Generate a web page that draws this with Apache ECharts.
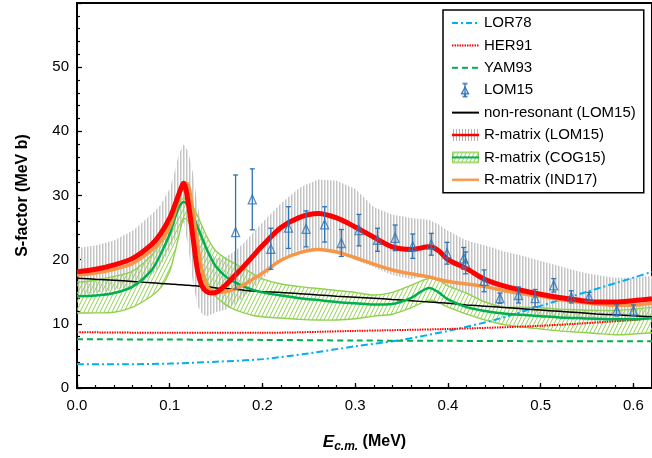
<!DOCTYPE html>
<html><head><meta charset="utf-8">
<script src="https://cdn.jsdelivr.net/npm/echarts@6/dist/echarts.min.js"></script>
<style>html,body{margin:0;padding:0;background:#fff}#c{width:652px;height:458px}</style>
</head><body><div id="c"></div>
<script>
// ---------------- data ----------------
const energy = [0,0.02,0.04,0.06,0.08,0.09,0.1,0.105,0.11,0.115,0.12,0.125,0.13,0.135,0.14,0.145,0.15,0.16,0.17,0.18,0.19,0.2,0.22,0.24,0.26,0.28,0.3,0.32,0.34,0.36,0.38,0.39,0.4,0.42,0.44,0.46,0.48,0.5,0.52,0.54,0.56,0.58,0.6,0.62];
const rmatLOM15 = [18.1,18.5,19.2,20.2,22.3, 24.0,26.5,28.3,30.3,31.9, 28.8,23.5,18.3,15.8,15.0, 14.8,14.9,16.0,17.5,19.0, 20.6,22.2,25.0,26.6,27.2, 26.5,25.1,23.5,22.0,21.6, 22.0,21.4,20.0,18.6,16.9, 15.9,15.2,14.6,14.1,13.7, 13.4,13.4,13.6,13.9];
const rmatLOM15Hi = [21.8,22.2,23.0,24.5,27.0, 28.5,31.0,33.5,36.5,38.0, 36.8,33.5,28.5,24.8,22.2, 20.8,20.2,20.4,21.3,22.6, 24.2,25.8,28.8,31.2,32.5, 32.3,31.0,28.2,27.0,26.5, 26.2,25.5,24.5,23.0,22.2, 21.3,20.6,19.8,19.0,18.2, 17.6,17.2,17.2,17.5];
const rmatLOM15Lo = [14.5,14.8,15.3,15.8,17.5, 19.0,21.5,23.0,24.3,25.8, 22.0,16.5,12.8,11.5,11.2, 11.5,11.8,12.2,13.0,14.2, 15.5,17.0,20.0,21.5,21.8, 21.3,20.0,18.8,17.6,17.0, 17.5,17.0,16.0,14.6,13.3, 12.5,11.9,11.3,10.9,10.6, 10.4,10.3,10.4,10.7];
const rmatIND17 = [17.6,17.9,18.5,19.4,21.4, 22.8,25.1,27.2,29.5,32.0, 31.7,27.5,22.5,18.2,15.9, 15.2,14.9,15.0,15.4,16.1, 17.0,17.9,19.9,21.1,21.6, 21.2,20.3,19.3,18.4,17.8, 17.3,16.9,16.6,16.2,15.8, 15.2,14.7,14.3,13.8,13.4, 13.1,12.9,12.9,13.2];
const nonResonant = [17.1,16.95,16.8,16.6,16.4, 16.3,16.2,16.15,16.1,16.05, 16.0,15.95,15.9,15.85,15.8, 15.7,15.6,15.5,15.4,15.25, 15.1,15.0,14.9,14.7,14.5, 14.3,14.15,14.0,13.8,13.6, 13.4,13.3,13.2,12.95,12.75, 12.55,12.35,12.15,11.95,11.75, 11.55,11.4,11.25,11.1];
const rmatCOG15 = [14.3,14.4,14.8,15.8,18.3, 20.8,24.0,26.2,28.2,29.0, 28.4,26.9,25.1,23.3,21.6, 20.1,18.9,17.4,16.5,15.8, 15.3,14.9,14.4,14.0,13.7, 13.4,13.2,13.0,13.1,14.0, 15.6,14.9,13.8,12.6,12.0, 11.6,11.4,11.2,11.0,10.9, 10.8,10.7,10.7,10.9];
const rmatCOG15Hi = [16.5,16.8,17.4,18.2,20.6, 22.6,26.0,27.6,28.9,29.6, 29.2,28.3,26.8,25.2,23.6, 22.3,21.3,20.2,19.4,18.6, 17.8,17.0,16.2,15.8,15.5, 15.2,14.9,14.5,14.9,16.0, 17.1,16.8,15.9,14.8,13.4, 12.6,12.6,12.5,12.3,12.2, 12.1,12.1,12.3,12.6];
const rmatCOG15Lo = [11.7,11.7,11.8,12.6,14.3, 15.6,18.2,20.8,23.8,26.4, 26.0,23.8,21.0,18.6,16.8, 15.3,14.2,13.0,12.2,11.7, 11.3,11.1,10.9,10.7,10.6, 10.6,10.8,11.2,11.5,12.5, 13.7,13.3,12.6,11.5,10.6, 9.9,9.5,9.2,8.9,8.7, 8.5,8.3,8.4,8.6];

const lor78E = [0,0.05,0.1,0.15,0.2,0.25,0.3,0.35,0.4,0.45,0.5,0.55,0.6,0.62];
const lor78S = [3.7,3.7,3.8,4.1,4.5,5.4,6.5,7.5,8.9,10.6,12.8,15.0,17.2,18.1];
const her91E = [0,0.1,0.2,0.3,0.4,0.5,0.6,0.62];
const her91S = [8.7,8.6,8.6,8.9,9.2,9.7,10.6,10.9];
const yam93E = [0,0.1,0.2,0.3,0.4,0.5,0.62];
const yam93S = [7.6,7.55,7.5,7.4,7.35,7.3,7.3];

const lom15E = [0.171,0.189,0.209,0.228,0.247,0.267,0.285,0.304,0.324,0.343,0.362,0.382,0.399,0.417,0.419,0.439,0.456,0.476,0.494,0.514,0.533,0.552,0.582,0.600];
const lom15S = [24.3,29.4,21.7,25.0,24.8,25.5,22.6,24.6,23.1,23.4,22.1,22.4,21.0,20.2,19.5,16.7,14.0,14.5,14.0,16.0,14.2,14.2,12.1,12.1];
const lom15Err = [8.9,4.75,3.2,3.25,2.8,2.75,2.1,2.45,1.8,2.0,1.9,1.7,1.7,1.7,1.7,1.7,0.8,1.25,1.35,1.05,0.95,0.7,0.85,0.85];

const xTicks = [0,0.1,0.2,0.3,0.4,0.5,0.6];
const yTicks = [0,10,20,30,40,50];
const seriesNames = ['LOR78','HER91','YAM93','LOM15','non-resonant (LOM15)','R-matrix (LOM15)','R-matrix (COG15)','R-matrix (IND17)'];

// ---------------- styles ----------------
const FONT = "'Liberation Sans', Arial, sans-serif";
const C = {lor:'#00b0f0', her:'#ff0000', yam:'#00b050', lom:'#2e74b5', nonres:'#000000',
           red:'#ff0000', cog:'#00b050', cogBand:'#92d050', ind:'#f79646'};

function makeCanvas(w,h,draw){const c=document.createElement('canvas');c.width=w;c.height=h;draw(c.getContext('2d'),w,h);return c;}
const greyPattern = makeCanvas(3,4,(g)=>{g.fillStyle='#c4c4c4';g.fillRect(0,0,1,4);g.fillStyle='#e2e2e2';g.fillRect(1,0,1,4);});
const greenPattern = makeCanvas(4,8,(g)=>{
  g.strokeStyle=C.cogBand;g.lineWidth=1;
  for(const dx of [-4,0,4]){g.beginPath();g.moveTo(dx,8);g.lineTo(dx+4,0);g.stroke();}
});

const IW=27, IH=16;
function icon(draw){return 'image://'+makeCanvas(IW,IH,draw).toDataURL();}
function hline(g,color,w,dash){g.strokeStyle=color;g.lineWidth=w;g.setLineDash(dash||[]);g.beginPath();g.moveTo(0,IH/2);g.lineTo(IW,IH/2);g.stroke();g.setLineDash([]);}
const icons = {
  'LOR78': icon(g=>hline(g,C.lor,2,[6,3,2,3])),
  'HER91': icon(g=>hline(g,C.her,2,[1.5,1])),
  'YAM93': icon(g=>hline(g,C.yam,2,[6,4])),
  'LOM15': icon(g=>{g.strokeStyle=C.lom;g.lineWidth=1.3;g.beginPath();
      g.moveTo(13,1.5);g.lineTo(13,14.5);g.moveTo(10.5,1.5);g.lineTo(15.5,1.5);g.moveTo(10.5,14.5);g.lineTo(15.5,14.5);g.stroke();
      g.fillStyle='#fff';g.beginPath();g.moveTo(13,5);g.lineTo(16.5,11.5);g.lineTo(9.5,11.5);g.closePath();g.fill();g.stroke();
      g.beginPath();g.moveTo(13,5);g.lineTo(13,14.5);g.stroke();}),
  'non-resonant (LOM15)': icon(g=>hline(g,C.nonres,2)),
  'R-matrix (LOM15)': icon(g=>{g.fillStyle='#b0b0b0';for(let x=1;x<IW;x+=3)g.fillRect(x,2,1,12);hline(g,C.red,2.5);}),
  'R-matrix (COG15)': icon(g=>{const p=g.createPattern(greenPattern,'repeat');g.fillStyle=p;g.fillRect(0,3,IW,10);
      g.strokeStyle=C.cogBand;g.lineWidth=1.5;g.strokeRect(0.5,3,IW-1,10);hline(g,C.cog,2);}),
  'R-matrix (IND17)': icon(g=>hline(g,C.ind,2.5))
};

// ---------------- series ----------------
function pairs(xs,ys){return xs.map((x,i)=>[x,ys[i]]);}
function lineSeries(name,xs,ys,color,width,type,z){
  return {type:'line',name,data:pairs(xs,ys),showSymbol:false,symbol:'none',smooth:0.3,
    lineStyle:{color,width,type:type||'solid',cap:'butt'},itemStyle:{color},z:z||2,silent:true,animation:false};
}
function bandSeries(name,lo,hi,fill,edge){
  return {type:'custom',name,coordinateSystem:'cartesian2d',clip:true,silent:true,animation:false,
    data:energy.map((x,i)=>[x,lo[i],hi[i]]),encode:{x:0,y:[1,2]},
    itemStyle:{color:edge||'#bbbbbb'},
    renderItem(params,api){
      if(params.dataIndex!==0) return null;
      const up=energy.map((x,i)=>api.coord([x,hi[i]]));
      const dn=energy.map((x,i)=>api.coord([x,lo[i]]));
      const children=[{type:'polygon',shape:{points:up.concat(dn.slice().reverse())},style:{fill:{image:fill,repeat:'repeat'},stroke:null}}];
      if(edge){
        children.push({type:'polyline',shape:{points:up,smooth:0.3},style:{stroke:edge,lineWidth:1.4,fill:null}});
        children.push({type:'polyline',shape:{points:dn,smooth:0.3},style:{stroke:edge,lineWidth:1.4,fill:null}});
      }
      return {type:'group',children};
    }};
}

const series = [
  bandSeries('R-matrix (LOM15)', rmatLOM15Lo, rmatLOM15Hi, greyPattern, null),
  bandSeries('R-matrix (COG15)', rmatCOG15Lo, rmatCOG15Hi, greenPattern, C.cogBand),
  lineSeries('LOR78', lor78E, lor78S, C.lor, 2, [7,3,2,3]),
  lineSeries('HER91', her91E, her91S, C.her, 2, [1.5,1]),
  lineSeries('YAM93', yam93E, yam93S, C.yam, 2, [6,4]),
  lineSeries('non-resonant (LOM15)', energy, nonResonant, C.nonres, 1.5),
  lineSeries('R-matrix (COG15)', energy, rmatCOG15, C.cog, 2.5),
  lineSeries('R-matrix (IND17)', energy, rmatIND17, C.ind, 3.5),
  lineSeries('R-matrix (LOM15)', energy, rmatLOM15, C.red, 5),
  {type:'custom',name:'LOM15',silent:true,animation:false,z:3,
    data:lom15E.map((x,i)=>[x,lom15S[i]-lom15Err[i],lom15S[i]+lom15Err[i]]),encode:{x:0,y:[1,2]},
    itemStyle:{color:C.lom},
    renderItem(params,api){
      const x=api.value(0);const lo=api.coord([x,api.value(1)]);const hi=api.coord([x,api.value(2)]);
      const st={stroke:C.lom,lineWidth:1.3};const cw=2.5;
      return {type:'group',children:[
        {type:'line',shape:{x1:lo[0],y1:lo[1],x2:hi[0],y2:hi[1]},style:st},
        {type:'line',shape:{x1:lo[0]-cw,y1:lo[1],x2:lo[0]+cw,y2:lo[1]},style:st},
        {type:'line',shape:{x1:hi[0]-cw,y1:hi[1],x2:hi[0]+cw,y2:hi[1]},style:st}]};
    }},
  {type:'scatter',name:'LOM15',data:pairs(lom15E,lom15S),symbol:'triangle',symbolSize:[8,9],silent:true,animation:false,z:4,
    itemStyle:{color:'rgba(255,255,255,0)',borderColor:C.lom,borderWidth:1.3}}
];

const chart = echarts.init(document.getElementById('c'),null,{renderer:'canvas'});
chart.setOption({
  animation:false,
  backgroundColor:'#fff',
  textStyle:{fontFamily:FONT},
  grid:{left:77,top:3,width:577,bottom:70,show:true,borderColor:'#000',borderWidth:2,backgroundColor:'transparent'},
  legend:{orient:'vertical',left:443,top:10,padding:[5,8,5,9],itemGap:6.4,itemWidth:IW,itemHeight:IH,
    borderColor:'#000',borderWidth:1.5,backgroundColor:'#fff',selectedMode:false,
    textStyle:{fontSize:15,color:'#000',fontFamily:FONT},
    data:seriesNames.map(n=>({name:n,icon:icons[n]}))},
  xAxis:[{type:'value',min:xTicks[0],max:0.62,interval:0.1,
      name:'{e|E}{s|c.m.}{n| (MeV)}',nameLocation:'middle',nameGap:44,
      nameTextStyle:{rich:{
        e:{fontSize:17,fontStyle:'italic',fontWeight:'bold',fontFamily:FONT,color:'#000',lineHeight:20,verticalAlign:'middle'},
        s:{fontSize:12,fontStyle:'italic',fontWeight:'bold',fontFamily:FONT,color:'#000',padding:[9,0,0,0],lineHeight:20,verticalAlign:'middle'},
        n:{fontSize:16,fontWeight:'bold',fontFamily:FONT,color:'#000',lineHeight:20,verticalAlign:'middle'}}},
      axisLine:{show:true,onZero:false,lineStyle:{color:'#000',width:2}},
      axisTick:{show:true,inside:true,length:5,lineStyle:{color:'#000',width:1.3}},
      minorTick:{show:false},splitLine:{show:false},
      axisLabel:{fontSize:15,color:'#000',fontFamily:FONT,margin:10,showMaxLabel:false,formatter:v=>v.toFixed(1)}},
    {type:'value',min:0,max:0.62,interval:0.02,position:'bottom',
      axisLine:{show:false},axisLabel:{show:false},splitLine:{show:false},
      axisTick:{show:true,inside:true,length:3,lineStyle:{color:'#000',width:1.2}}}],
  yAxis:{type:'value',min:yTicks[0],max:60,interval:10,
    name:'S-factor (MeV b)',nameLocation:'middle',nameGap:46,nameRotate:90,
    nameTextStyle:{fontSize:16,fontWeight:'bold',color:'#000',fontFamily:FONT},
    axisLine:{show:true,onZero:false,lineStyle:{color:'#000',width:2}},
    axisTick:{show:true,inside:true,length:5,lineStyle:{color:'#000',width:1.3}},
    minorTick:{show:true,splitNumber:5,length:3,lineStyle:{color:'#000',width:1.2}},
    splitLine:{show:false},minorSplitLine:{show:false},
    axisLabel:{fontSize:15,color:'#000',fontFamily:FONT,margin:8,showMaxLabel:false}},
  series
});
</script></body></html>
